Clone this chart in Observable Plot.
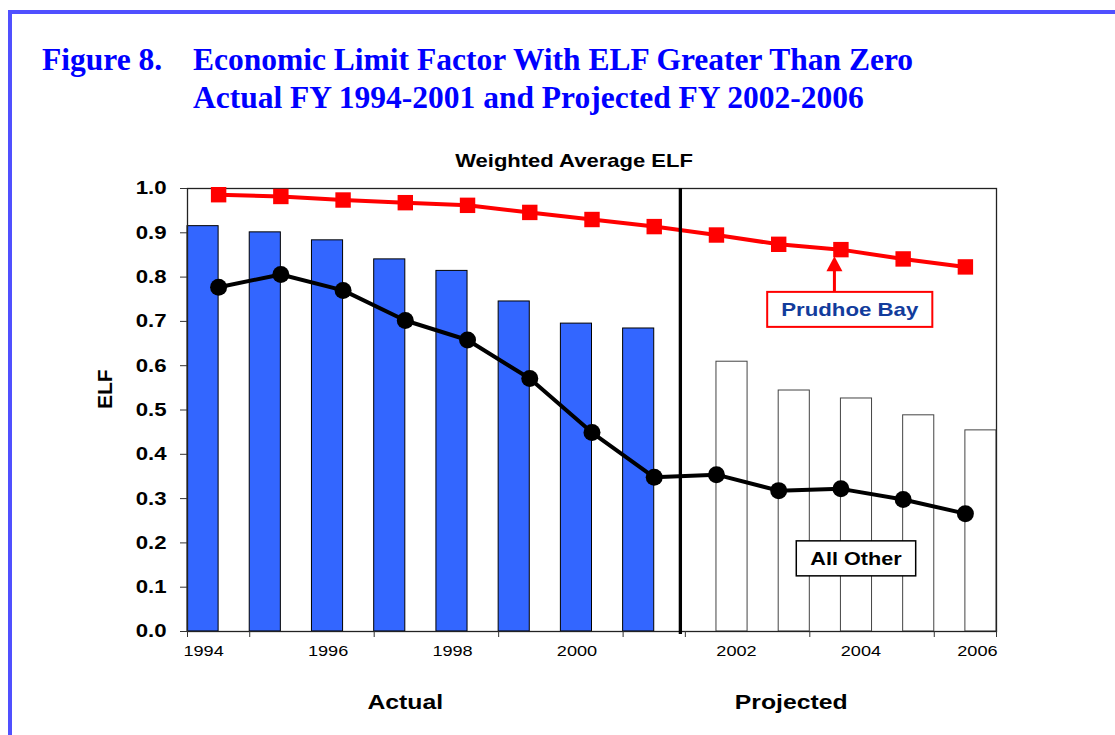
<!DOCTYPE html>
<html>
<head>
<meta charset="utf-8">
<script src="https://cdn.jsdelivr.net/npm/d3@7"></script>
<script src="https://cdn.jsdelivr.net/npm/@observablehq/plot@0.6"></script>
<style>
  html, body { margin: 0; padding: 0; background: #fff; }
  body { width: 1115px; height: 735px; overflow: hidden; position: relative; font-family: "Liberation Sans", Arial, sans-serif; }
  #border { position: absolute; left: 8px; top: 10px; width: 1200px; height: 800px; border-top: 4px solid #5050ff; border-left: 4px solid #5050ff; }
  .title { position: absolute; top: 41px; font-family: "Liberation Serif", "Times New Roman", serif; font-weight: bold; font-size: 31.5px; line-height: 38px; color: #0000ff; white-space: nowrap; }
  #chart { position: absolute; left: 0; top: 140px; }
</style>
</head>
<body>
<div id="border"></div>
<div class="title" style="left:42px">Figure 8.</div>
<div class="title" style="left:193px">Economic Limit Factor With ELF Greater Than Zero<br>Actual FY 1994-2001 and Projected FY 2002-2006</div>
<div id="chart"></div>
<script>
// ---- data ----
const years = [1994, 1995, 1996, 1997, 1998, 1999, 2000, 2001, 2002, 2003, 2004, 2005, 2006];
const weightedAvgElf = [0.915, 0.901, 0.883, 0.840, 0.814, 0.745, 0.695, 0.684, 0.609, 0.544, 0.526, 0.488, 0.454];
const prudhoeBay = [0.986, 0.982, 0.974, 0.968, 0.962, 0.946, 0.930, 0.914, 0.895, 0.874, 0.862, 0.841, 0.823];
const allOther = [0.777, 0.806, 0.770, 0.702, 0.658, 0.571, 0.449, 0.348, 0.354, 0.318, 0.322, 0.298, 0.266];
const lastActualYear = 2001;
const dividerYear = 2001.42;
const yTicks = [0, 0.1, 0.2, 0.3, 0.4, 0.5, 0.6, 0.7, 0.8, 0.9, 1.0];
const xTickBoundaries = [1993.5, 1994.5, 1996.5, 1998.5, 2000.5, 2001.5, 2003.5, 2005.5, 2006.5];
const actualTickLabels = [1994, 1996, 1998, 2000];
const projectedTickLabels = [2002, 2004];
const lastTickLabels = [2006];
const sections = [{label: "Actual", year: 1997}, {label: "Projected", year: 2003.2}];
const subtitle = ["Weighted Average ELF"];
const yLabel = ["ELF"];
const callouts = [
  {label: "Prudhoe Bay", year: 2004.15, elf: 0.726, arrowYear: 2004},
  {label: "All Other", year: 2004.25, elf: 0.164, arrowYear: null}
];
const calloutStyles = {
  "Prudhoe Bay": {text: "#123c9c", border: "#ff0000", borderWidth: 2, fontSize: 19},
  "All Other": {text: "#000000", border: "#000000", borderWidth: 1.5, fontSize: 18.5}
};

// ---- table ----
const table = years.map((year, i) => ({
  year, wavg: weightedAvgElf[i], pb: prudhoeBay[i], ao: allOther[i], actual: year <= lastActualYear
}));
const actualRows = table.filter(d => d.actual);
const projectedRows = table.filter(d => !d.actual);

const chart = Plot.plot({
  width: 1115,
  height: 595,
  marginLeft: 187,
  marginRight: 119,
  marginTop: 48,
  marginBottom: 104,
  style: {fontFamily: "'Liberation Sans', Arial, sans-serif", color: "#000", background: "transparent", overflow: "visible"},
  x: {type: "linear", domain: [1993.5, 2006.5], axis: null},
  y: {domain: [0, 1], axis: null},
  marks: [
    Plot.rect(actualRows, {x1: d => d.year - 0.5, x2: "year", y1: 0, y2: "wavg", fill: "#3366ff", stroke: "#000", strokeWidth: 1}),
    Plot.rect(projectedRows, {x1: "year", x2: d => d.year + 0.5, y1: 0, y2: "wavg", fill: "#fff", stroke: "#444", strokeWidth: 1}),
    Plot.frame({stroke: "#222", strokeWidth: 1.3}),
    Plot.axisY({ticks: yTicks, tickSize: 7, tickPadding: 14, tickFormat: d3.format(".1f"), fontSize: 18.5, fontWeight: "bold", stroke: "#333", label: null}),
    Plot.axisX({ticks: xTickBoundaries, tickSize: 6, tickFormat: () => "", stroke: "#333", label: null}),
    Plot.text(actualTickLabels, {x: d => d, text: d => String(d), frameAnchor: "bottom", lineAnchor: "bottom", dy: 24, dx: -15, fontSize: 14.5}),
    Plot.text(projectedTickLabels, {x: d => d, text: d => String(d), frameAnchor: "bottom", lineAnchor: "bottom", dy: 24, dx: 20, fontSize: 14.5}),
    Plot.text(lastTickLabels, {x: d => d, text: d => String(d), frameAnchor: "bottom", lineAnchor: "bottom", dy: 24, dx: 12, fontSize: 14.5}),
    Plot.line(table, {x: "year", y: "pb", stroke: "#ff0000", strokeWidth: 4}),
    Plot.line(table, {x: "year", y: "ao", stroke: "#000", strokeWidth: 4}),
    Plot.ruleX([dividerYear], {x: d => d, stroke: "#000", strokeWidth: 3.3, insetBottom: -3}),
    Plot.dot(table, {x: "year", y: "pb", symbol: "square", r: 8.7, fill: "#ff0000", stroke: "none"}),
    Plot.dot(table, {x: "year", y: "ao", r: 8.5, fill: "#000", stroke: "none"}),
    Plot.text(subtitle, {frameAnchor: "top", lineAnchor: "bottom", dx: -18, dy: -22, fontSize: 18.5, fontWeight: "bold"}),
    Plot.text(sections, {x: "year", text: "label", frameAnchor: "bottom", lineAnchor: "bottom", dy: 77, fontSize: 19.5, fontWeight: "bold"}),
    Plot.text(yLabel, {frameAnchor: "left", dx: -82, dy: -1, rotate: -90, fontSize: 21, fontWeight: "bold"})
  ]
});
document.getElementById("chart").appendChild(chart);

// ---- the source's text is horizontally stretched: widen the glyphs ----
function stretch(node, factor) {
  const len = node.getComputedTextLength() * factor;
  node.setAttribute("textLength", len.toFixed(2));
  node.setAttribute("lengthAdjust", "spacingAndGlyphs");
  return len;
}
const svg = d3.select(chart);
svg.selectAll("text").each(function () {
  const s = this.textContent;
  let f = null;
  if (/^\d\.\d$/.test(s)) f = 1.2;
  else if (/^\d{4}$/.test(s)) f = 1.25;
  else if (subtitle.includes(s)) f = 1.19;
  else if (sections.some(d => d.label === s)) f = 1.27;
  if (f) stretch(this, f);
});

// ---- callouts (placed via the plot's scales) ----
const sx = chart.scale("x"), sy = chart.scale("y");
callouts.forEach(c => {
  const st = calloutStyles[c.label];
  const cx = sx.apply(c.year), cy = sy.apply(c.elf);
  const g = svg.append("g").attr("class", "callout");
  const rect = g.append("rect");
  const t = g.append("text")
    .attr("x", cx).attr("y", cy).attr("dy", "0.36em")
    .attr("text-anchor", "middle")
    .attr("font-size", st.fontSize).attr("font-weight", "bold")
    .attr("fill", st.text)
    .text(c.label);
  const tw = stretch(t.node(), 1.17);
  const w = tw + 28, h = 35;
  rect.attr("x", cx - w / 2).attr("y", cy - h / 2).attr("width", w).attr("height", h)
    .attr("fill", "#fff").attr("stroke", st.border).attr("stroke-width", st.borderWidth);
  if (c.arrowYear != null) {
    const row = table.find(d => d.year === c.arrowYear);
    const ax = sx.apply(c.arrowYear) - 6;
    const tip = sy.apply(row.pb) + 7;
    const boxTop = cy - h / 2;
    g.append("line").attr("x1", ax).attr("x2", ax).attr("y1", boxTop).attr("y2", tip + 12)
      .attr("stroke", st.border).attr("stroke-width", 3);
    g.append("path").attr("d", `M${ax},${tip}L${ax + 8},${tip + 15}L${ax - 8},${tip + 15}Z`).attr("fill", st.border);
  }
});
</script>
</body>
</html>
